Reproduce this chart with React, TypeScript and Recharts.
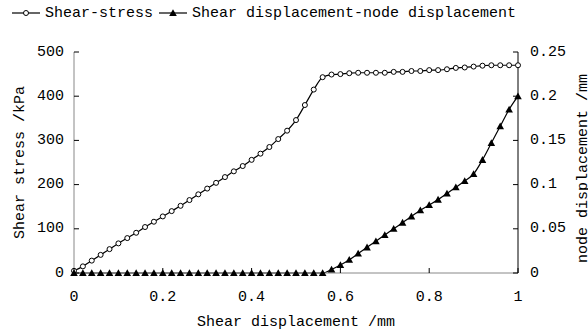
import { ComposedChart, Line, XAxis, YAxis, Legend } from 'recharts';

const FONT = "'Liberation Mono', 'DejaVu Sans Mono', monospace";

// shear displacement (mm), one sample every 0.02
const shearDisp = [
  0, 0.02, 0.04, 0.06, 0.08, 0.1, 0.12, 0.14, 0.16, 0.18,
  0.2, 0.22, 0.24, 0.26, 0.28, 0.3, 0.32, 0.34, 0.36, 0.38,
  0.4, 0.42, 0.44, 0.46, 0.48, 0.5, 0.52, 0.54, 0.56, 0.58,
  0.6, 0.62, 0.64, 0.66, 0.68, 0.7, 0.72, 0.74, 0.76, 0.78,
  0.8, 0.82, 0.84, 0.86, 0.88, 0.9, 0.92, 0.94, 0.96, 0.98, 1,
];

// shear stress (kPa)
const shearStress = [
  5, 15, 28, 41, 54, 67, 79, 91, 104, 116,
  128, 140, 152, 165, 178, 191, 204, 217, 230, 242,
  256, 270, 285, 303, 322, 346, 380, 415, 443, 449,
  450, 452, 453, 453, 453, 453, 455, 455, 457, 457,
  459, 459, 461, 464, 465, 467, 469, 470, 470, 470, 470,
];

// node displacement (mm)
const nodeDisp = [
  0, 0, 0, 0, 0, 0, 0, 0, 0, 0,
  0, 0, 0, 0, 0, 0, 0, 0, 0, 0,
  0, 0, 0, 0, 0, 0, 0, 0, 0, 0.004,
  0.009, 0.015, 0.022, 0.029, 0.036, 0.043, 0.05, 0.057, 0.064, 0.071,
  0.077, 0.083, 0.09, 0.097, 0.104, 0.112, 0.128, 0.147, 0.166, 0.185, 0.2,
];

const xTicks = [0, 0.2, 0.4, 0.6, 0.8, 1];
const stressTicks = [0, 100, 200, 300, 400, 500];
const nodeTicks = [0, 0.05, 0.1, 0.15, 0.2, 0.25];

const data = shearDisp.map((x, i) => ({ x, stress: shearStress[i], node: nodeDisp[i] }));

const textStyle = { fontFamily: FONT, fontSize: 15, fill: '#000' };

const LeftTick = ({ x, y, payload }: any) => (
  <g>
    <line x1={x} x2={x + 5} y1={y} y2={y} stroke="#000" />
    <text x={x - 10} y={y} textAnchor="end" dominantBaseline="central" style={textStyle}>
      {payload.value}
    </text>
  </g>
);

const RightTick = ({ x, y, payload }: any) => (
  <g>
    <line x1={x} x2={x - 5} y1={y} y2={y} stroke="#000" />
    <text x={x + 12} y={y} textAnchor="start" dominantBaseline="central" style={textStyle}>
      {payload.value}
    </text>
  </g>
);

const BottomTick = ({ x, y, payload }: any) => (
  <g>
    <line x1={x} x2={x} y1={y} y2={y - 5} stroke="#000" />
    <text x={x} y={y + 24} textAnchor="middle" dominantBaseline="central" style={textStyle}>
      {payload.value}
    </text>
  </g>
);

const TriangleDot = (props: any) => {
  const { cx, cy, index } = props;
  if (cx == null || cy == null) return <g key={index} />;
  const s = 3.8;
  return (
    <polygon
      key={index}
      points={`${cx},${cy - s} ${cx - s},${cy + s * 0.8} ${cx + s},${cy + s * 0.8}`}
      fill="#000"
    />
  );
};

const LegendContent = () => (
  <div style={{ height: 26, display: 'flex', alignItems: 'center', fontFamily: FONT, fontSize: 15, color: '#000', paddingLeft: 12 }}>
    <svg width={30} height={10}>
      <line x1={0} x2={28} y1={5} y2={5} stroke="#000" strokeWidth={1.2} />
      <circle cx={14} cy={5} r={2.5} fill="#fff" stroke="#000" />
    </svg>
    <span style={{ marginLeft: 3, marginRight: 6 }}>Shear-stress</span>
    <svg width={30} height={10}>
      <line x1={0} x2={28} y1={5} y2={5} stroke="#000" strokeWidth={1.2} />
      <polygon points="14,1.2 10.2,8 17.8,8" fill="#000" />
    </svg>
    <span style={{ marginLeft: 3 }}>Shear displacement-node displacement</span>
  </div>
);

export default function App() {
  return (
    <div style={{ position: 'absolute', left: 0, top: 0, width: 588, height: 335, background: '#fff' }}>
      <ComposedChart width={588} height={335} data={data} margin={{ top: 26, right: 0, bottom: 0, left: 0 }}>
        <Legend verticalAlign="top" align="left" content={LegendContent} wrapperStyle={{ top: 0, left: 0 }} />
        <XAxis
          type="number"
          dataKey="x"
          domain={[0, 1]}
          ticks={xTicks}
          height={62}
          stroke="#888"
          tickLine={false}
          tickSize={0}
          tickMargin={0}
          tick={BottomTick}
          label={{
            content: (p: any) => (
              <text
                x={p.viewBox.x + p.viewBox.width / 2}
                y={p.viewBox.y + 49}
                textAnchor="middle"
                dominantBaseline="central"
                style={textStyle}
              >
                Shear displacement /mm
              </text>
            ),
          }}
        />
        <YAxis
          yAxisId="left"
          domain={[0, 500]}
          ticks={stressTicks}
          width={74}
          stroke="#888"
          tickLine={false}
          tickSize={0}
          tickMargin={0}
          tick={LeftTick}
          label={{
            content: (p: any) => {
              const cx = p.viewBox.x + 20;
              const cy = p.viewBox.y + p.viewBox.height / 2;
              return (
                <text x={cx} y={cy} transform={`rotate(-90 ${cx} ${cy})`} textAnchor="middle" dominantBaseline="central" style={textStyle}>
                  Shear stress /kPa
                </text>
              );
            },
          }}
        />
        <YAxis
          yAxisId="right"
          orientation="right"
          domain={[0, 0.25]}
          ticks={nodeTicks}
          width={70}
          stroke="#000"
          tickLine={false}
          tickSize={0}
          tickMargin={0}
          tick={RightTick}
          label={{
            content: (p: any) => {
              const cx = p.viewBox.x + 65;
              const cy = p.viewBox.y + p.viewBox.height / 2 + 6;
              return (
                <text x={cx} y={cy} transform={`rotate(-90 ${cx} ${cy})`} textAnchor="middle" dominantBaseline="central" style={textStyle}>
                  node displacement /mm
                </text>
              );
            },
          }}
        />
        <Line
          yAxisId="left"
          type="monotone"
          dataKey="stress"
          stroke="#000"
          strokeWidth={1.2}
          dot={{ r: 2.5, fill: '#fff', stroke: '#000', strokeWidth: 1 }}
          isAnimationActive={false}
        />
        <Line
          yAxisId="right"
          type="monotone"
          dataKey="node"
          stroke="#000"
          strokeWidth={1.2}
          dot={TriangleDot}
          isAnimationActive={false}
        />
      </ComposedChart>
    </div>
  );
}
